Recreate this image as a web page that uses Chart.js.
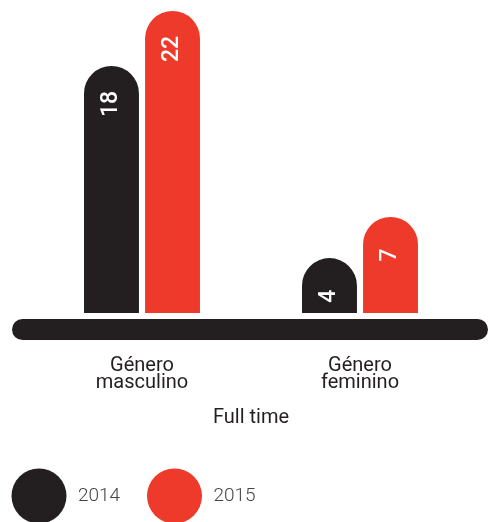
<!DOCTYPE html>
<html>
<head>
<meta charset="utf-8">
<script src="https://cdn.jsdelivr.net/npm/chart.js@4"></script>
<style>html,body{margin:0;padding:0;background:#fff;}</style>
</head>
<body>
<canvas id="grafico" width="488" height="522"></canvas>
<script>
// Datos
const categorias = [['Género', 'masculino'], ['Género', 'feminino']];
const anios = ['2014', '2015'];
const valores2014 = [18, 4];
const valores2015 = [22, 7];
const tituloEje = 'Full time';

const negro = '#231F20';
const rojo = '#EE3A2B';
const fuente = 'Roboto';

// Barra base gruesa con puntas redondeadas
const lineaBase = {
    id: 'lineaBase',
    beforeDatasetsDraw(chart) {
        const { ctx, chartArea } = chart;
        const y = chartArea.bottom + 6;
        ctx.save();
        ctx.fillStyle = negro;
        ctx.beginPath();
        ctx.roundRect(12, y, chart.width - 12, 21, 10.5);
        ctx.fill();
        ctx.restore();
    }
};

// Números en blanco, girados, dentro de cada barra
const etiquetasValor = {
    id: 'etiquetasValor',
    afterDatasetsDraw(chart) {
        const { ctx } = chart;
        ctx.save();
        ctx.fillStyle = '#fff';
        ctx.font = '500 23px ' + fuente;
        ctx.textAlign = 'center';
        ctx.textBaseline = 'middle';
        chart.data.datasets.forEach((ds, i) => {
            chart.getDatasetMeta(i).data.forEach((bar, j) => {
                ctx.save();
                ctx.translate(bar.x, bar.y + 38);
                ctx.rotate(-Math.PI / 2);
                ctx.fillText(String(ds.data[j]), 0, 0);
                ctx.restore();
            });
        });
        ctx.restore();
    }
};

// Leyenda con círculos grandes
const leyenda = {
    id: 'leyenda',
    afterDraw(chart) {
        const { ctx } = chart;
        const y = 496;
        ctx.save();
        chart.data.datasets.forEach((ds, i) => {
            const cx = 39 + i * 135.5;
            ctx.fillStyle = ds.backgroundColor;
            ctx.beginPath();
            ctx.arc(cx, y, 27.5, 0, Math.PI * 2);
            ctx.fill();
            ctx.fillStyle = '#444';
            ctx.font = '300 19px ' + fuente;
            ctx.textAlign = 'left';
            ctx.textBaseline = 'middle';
            ctx.fillText(ds.label, cx + 39, y);
        });
        ctx.restore();
    }
};

const ctx = document.getElementById('grafico').getContext('2d');
new Chart(ctx, {
    type: 'bar',
    data: {
        labels: categorias,
        datasets: [{
            label: anios[0],
            data: valores2014,
            backgroundColor: negro
        }, {
            label: anios[1],
            data: valores2015,
            backgroundColor: rojo
        }]
    },
    options: {
        responsive: false,
        animation: false,
        datasets: {
            bar: {
                categoryPercentage: 0.56,
                barPercentage: 0.9,
                borderRadius: 28
            }
        },
        layout: { padding: { top: 11, left: 33, right: 19, bottom: 92 } },
        plugins: {
            legend: { display: false },
            tooltip: { enabled: false }
        },
        scales: {
            x: {
                grid: { display: false, drawTicks: false },
                border: { display: false },
                ticks: {
                    color: negro,
                    padding: 44,
                    font: { family: fuente, size: 20, lineHeight: 0.875 }
                },
                title: {
                    display: true,
                    text: tituloEje,
                    color: negro,
                    padding: { top: -30, bottom: 0 },
                    font: { family: fuente, size: 20 }
                }
            },
            y: { display: false, min: 0, max: 22 }
        }
    },
    plugins: [lineaBase, etiquetasValor, leyenda]
});
</script>
</body>
</html>
